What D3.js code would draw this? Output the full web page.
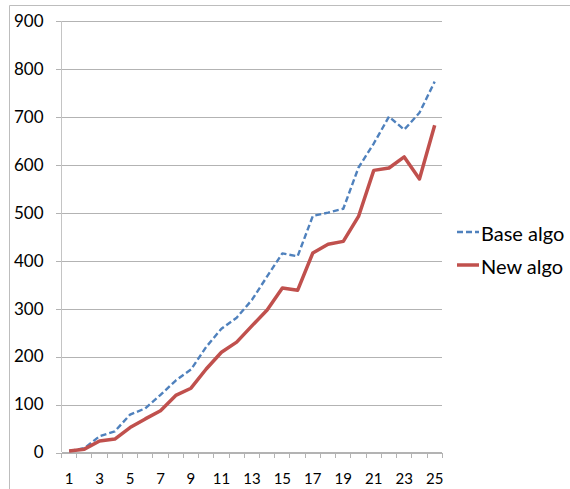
<!DOCTYPE html>
<html>
<head>
<meta charset="utf-8">
<script src="https://cdn.jsdelivr.net/npm/d3@7"></script>
<style>
    body { margin: 0; background: #fff; }
    #chart { width: 570px; height: 489px; }
    .axis text { font-family: Lato, "Liberation Sans", sans-serif; fill: #000; }
</style>
</head>
<body>
<div id="chart"></div>
<script>

// categories 1..25
let categories = ["1", "2", "3", "4", "5", "6", "7", "8", "9", "10", "11", "12", "13",
    "14", "15", "16", "17", "18", "19", "20", "21", "22", "23", "24", "25"];

let baseAlgo = [3, 9, 34, 44, 79, 92, 120, 150, 173, 220, 258, 281, 318, 367, 415,
    409, 493, 500, 508, 594, 644, 700, 673, 708, 773];

let newAlgo = [3, 7, 24, 28, 52, 70, 87, 119, 134, 174, 209, 230, 264, 297, 343,
    338, 416, 434, 440, 492, 588, 593, 616, 570, 682];

let yTicks = [0, 100, 200, 300, 400, 500, 600, 700, 800, 900];

let series = [
    {name: "Base algo", values: baseAlgo, color: "#4f81bd", width: 2.4, dash: "6,3"},
    {name: "New algo", values: newAlgo, color: "#c0504d", width: 3.5, dash: null}
];

let margin = {top: 20.7, left: 61.5, right: 128, bottom: 36.5};
let width = 570, height = 489;
let plotW = 442.3 - margin.left;
let plotH = 452.5 - margin.top;

let svg = d3.select("#chart").append("svg")
    .attr("width", width)
    .attr("height", height);

// outer chart frame (cut by the picture edge)
svg.append("path")
    .attr("d", "M9.5,489 V5.5 H570")
    .attr("fill", "none")
    .attr("stroke", "#bdbdbd")
    .attr("stroke-width", 1);

let g = svg.append("g")
    .attr("transform", `translate(${margin.left}, ${margin.top})`);

let x = d3.scaleBand()
    .domain(categories)
    .range([0, plotW]);

let y = d3.scaleLinear()
    .domain([0, 900])
    .range([plotH, 0]);

// gridlines + y axis
let yAxis = d3.axisLeft(y)
    .tickValues(yTicks)
    .tickSize(-plotW)
    .tickPadding(18)
    .tickSizeOuter(0);

let yAxisGroup = g.append("g")
    .attr("class", "axis y-axis")
    .call(yAxis);

yAxisGroup.select(".domain").remove();
yAxisGroup.selectAll(".tick line")
    .attr("x1", -6)
    .attr("stroke", "#b3b3b3")
    .attr("stroke-width", 1)
    .attr("shape-rendering", "crispEdges");
yAxisGroup.selectAll("text")
    .style("font-size", "17px");

// vertical axis line
g.append("line")
    .attr("x1", 0).attr("x2", 0)
    .attr("y1", 0).attr("y2", plotH)
    .attr("stroke", "#c4c4c4")
    .attr("shape-rendering", "crispEdges");

// x axis with ticks between categories
let xAxisGroup = g.append("g")
    .attr("class", "axis x-axis")
    .attr("transform", `translate(0, ${plotH})`);

xAxisGroup.append("line")
    .attr("x1", 0).attr("x2", plotW)
    .attr("stroke", "#b3b3b3")
    .attr("shape-rendering", "crispEdges");

let boundaries = categories.map(c => x(c)).concat([plotW]);
xAxisGroup.selectAll(".sep")
    .data(boundaries)
    .enter().append("line")
    .attr("class", "sep")
    .attr("x1", d => d).attr("x2", d => d)
    .attr("y1", 0).attr("y2", 5)
    .attr("stroke", "#b3b3b3")
    .attr("shape-rendering", "crispEdges");

xAxisGroup.selectAll(".lbl")
    .data(categories.filter((c, i) => i % 2 === 0))
    .enter().append("text")
    .attr("class", "lbl")
    .attr("x", d => x(d) + x.bandwidth() / 2)
    .attr("y", 31)
    .attr("text-anchor", "middle")
    .style("font-size", "15px")
    .text(d => d);

// lines
let line = d3.line()
    .x((d, i) => x(categories[i]) + x.bandwidth() / 2)
    .y(d => y(d));

series.forEach(s => {
    g.append("path")
        .datum(s.values)
        .attr("fill", "none")
        .attr("stroke", s.color)
        .attr("stroke-width", s.width)
        .attr("stroke-dasharray", s.dash)
        .attr("stroke-linejoin", "round")
        .attr("d", line);
});

// legend
let legend = svg.append("g")
    .attr("transform", "translate(457, 232)");

series.forEach((s, i) => {
    let row = legend.append("g")
        .attr("transform", `translate(0, ${i * 33})`);
    row.append("line")
        .attr("x1", 0).attr("x2", 22)
        .attr("stroke", s.color)
        .attr("stroke-width", s.width)
        .attr("stroke-dasharray", s.dash);
    row.append("text")
        .attr("x", 24)
        .attr("y", 9)
        .style("font-family", "Lato, 'Liberation Sans', sans-serif")
        .style("font-size", "20px")
        .text(s.name);
});

</script>
</body>
</html>
